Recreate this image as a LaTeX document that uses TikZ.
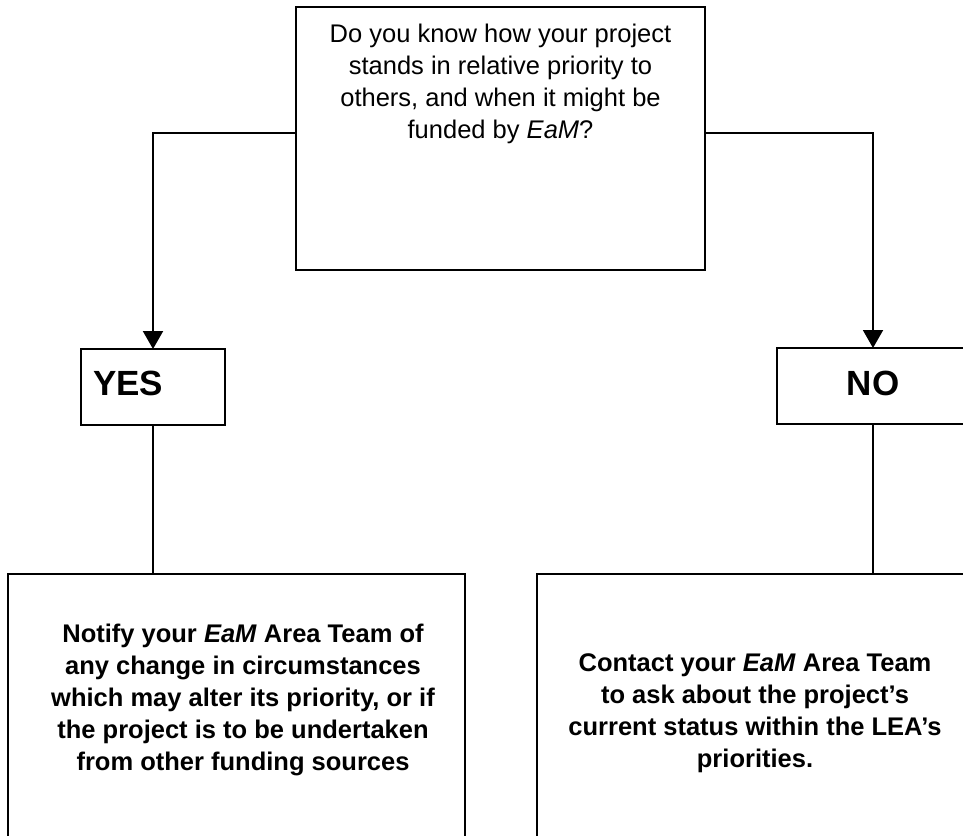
\documentclass[tikz,border=0pt]{standalone}
\usepackage{fontspec}
\setmainfont{Liberation Sans}
\usetikzlibrary{arrows.meta}
\begin{document}
\begin{tikzpicture}[x=1pt,y=-1pt,
  box/.style={draw=black, line width=2pt, fill=white, inner sep=0pt, outer sep=0pt},
  conn/.style={draw=black, line width=2pt},
  arr/.style={conn, -{Triangle[width=20pt,length=18pt]}},
  qtext/.style={align=center, inner sep=0pt, font=\fontsize{25.5pt}{32pt}\selectfont},
  btext/.style={align=center, inner sep=0pt, font=\fontsize{25.5pt}{32pt}\selectfont\bfseries},
  ytext/.style={inner sep=0pt, font=\fontsize{35pt}{40pt}\selectfont\bfseries}
]
\useasboundingbox (0,0) rectangle (963,835);
\clip (0,0) rectangle (963,835);
\fill[white] (0,0) rectangle (963,835);

% boxes
\node[box, minimum width=409pt, minimum height=263pt] (q) at (500.5,138.5) {};
\node[box, minimum width=144pt, minimum height=76pt] (yes) at (153,387) {};
\node[box, minimum width=192pt, minimum height=76pt] (no) at (873,386) {};
\node[box, minimum width=457pt, minimum height=326pt] (L) at (236.5,737) {};
\node[box, minimum width=436pt, minimum height=326pt] (R) at (755,737) {};

% texts
\node[qtext] (qt) at (500.5,84) {Do you know how your project\\stands in relative priority to\\others, and when it might be\\funded by \textit{EaM}?};
\node[ytext, anchor=base west] (yt) at (93,395) {YES};
\node[ytext, anchor=base] (nt) at (873,395) {NO};
\node[btext] (lt) at (243,700) {Notify your \textit{EaM} Area Team of\\any change in circumstances\\which may alter its priority, or if\\the project is to be undertaken\\from other funding sources};
\node[btext] (rt) at (755,713) {Contact your \textit{EaM} Area Team\\to ask about the project’s\\current status within the LEA’s\\priorities.};

% connectors
\draw[arr] ([yshift=5.5pt]q.west) -| (yes.north);
\draw[arr] ([yshift=5.5pt]q.east) -| (no.north);
\draw[conn] (yes.south) -- (yes.south |- L.north);
\draw[conn] (no.south) -- (no.south |- R.north);
\end{tikzpicture}
\end{document}
